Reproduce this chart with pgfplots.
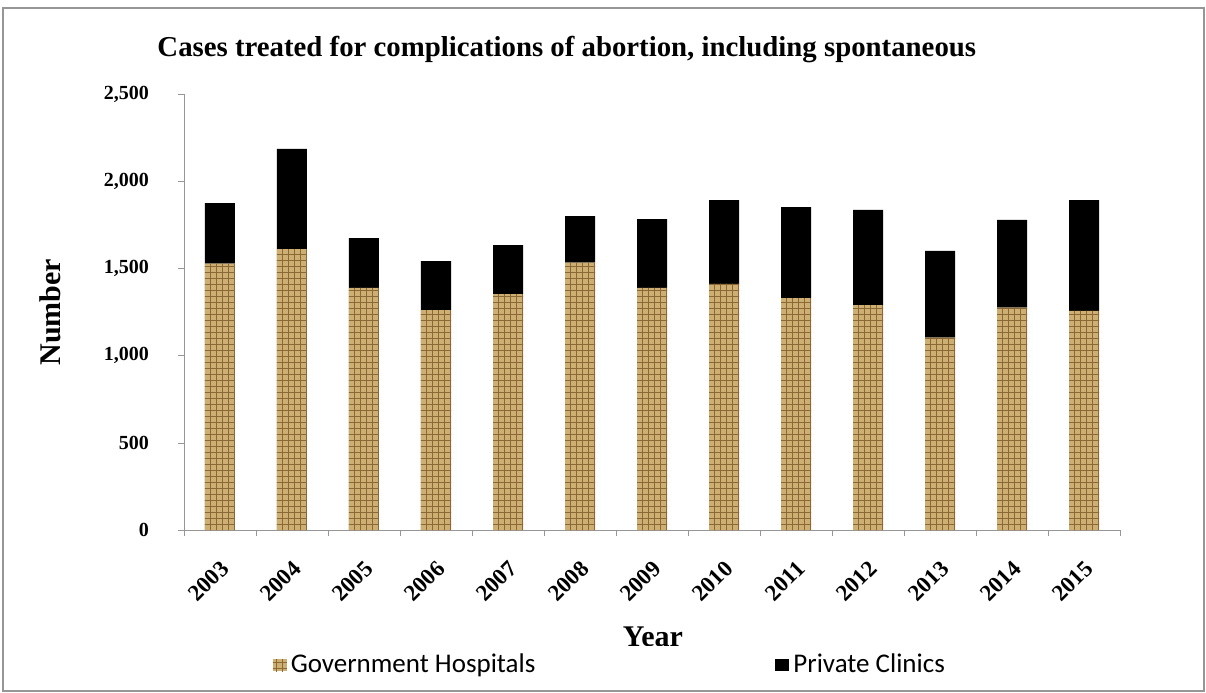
\documentclass[border=0pt]{standalone}
\usepackage{fontspec}
\setmainfont{Liberation Serif}
\newfontfamily\legendfont{Carlito}
\usepackage{pgfplots}
\usepackage{pgfplotstable}
\pgfplotsset{compat=1.18}
\usetikzlibrary{patterns}

\definecolor{burlap}{RGB}{205,175,115}
\definecolor{burlapdark}{RGB}{140,105,52}
\definecolor{framegray}{RGB}{150,150,150}

% year index, government hospitals, private clinics
\pgfplotstableread{
idx year gov priv
0  2003 1527 348
1  2004 1611 574
2  2005 1388 286
3  2006 1261 281
4  2007 1353 281
5  2008 1533 267
6  2009 1388 395
7  2010 1411 481
8  2011 1330 522
9  2012 1290 545
10 2013 1103 497
11 2014 1275 503
12 2015 1256 636
}\cases

\begin{document}
\begin{tikzpicture}
\useasboundingbox (0,0) rectangle (603pt,-346pt);
\draw[framegray, line width=0.8pt] (1.5pt,-4pt) rectangle (602pt,-345.5pt);
\begin{axis}[
  at={(92pt,-265pt)}, anchor=south west,
  scale only axis, width=468pt, height=218pt,
  ybar stacked, bar width=15pt,
  xmin=-0.5, xmax=12.5, ymin=0, ymax=2500,
  ytick={0,500,...,2500},
  xtick={0,...,12},
  xticklabels={2003,2004,2005,2006,2007,2008,2009,2010,2011,2012,2013,2014,2015},
  minor xtick={-0.5,0.5,...,12.5},
  axis x line=bottom, axis y line=left,
  axis line style={-, framegray},
  tick style={framegray},
  major x tick style={draw=none},
  tick align=outside,
  major tick length=3pt, minor tick length=3pt,
  /pgf/number format/1000 sep={,},
  /pgf/number format/assume math mode=true,
  yticklabel style={font=\bfseries\fontsize{10}{12}\selectfont, xshift=-11pt},
  xticklabel style={font=\bfseries\fontsize{11.5}{13}\selectfont, rotate=45, anchor=east, xshift=-5pt, yshift=-12pt},
  title={Cases treated for complications of abortion, including spontaneous},
  title style={font=\bfseries\fontsize{14.4}{16}\selectfont, at={(axis description cs:0.409,1)}, anchor=center, yshift=16pt},
  xlabel={Year},
  xlabel style={font=\bfseries\fontsize{15}{18}\selectfont, at={(axis description cs:0.501,0)}, anchor=center, yshift=-53.5pt},
  ylabel={Number},
  ylabel style={font=\bfseries\fontsize{15}{18}\selectfont, at={(axis description cs:-0.143,0.5)}, anchor=center},
  legend columns=2,
  legend style={at={(axis description cs:0.456,0)}, anchor=center, yshift=-67.5pt, draw=none,
    font=\legendfont\fontsize{13.5}{15}\selectfont,
    /tikz/every even column/.append style={column sep=118pt}},
  legend image code/.code={\fill[#1] (0pt,-3pt) rectangle (7pt,3pt);},
]
\addplot[fill=burlap, draw=none, postaction={pattern=grid, pattern color=burlapdark}] table[x=idx, y=gov]{\cases};
\addplot[fill=black, draw=none] table[x=idx, y=priv]{\cases};
\legend{Government Hospitals, Private Clinics}
\end{axis}
\end{tikzpicture}
\end{document}
